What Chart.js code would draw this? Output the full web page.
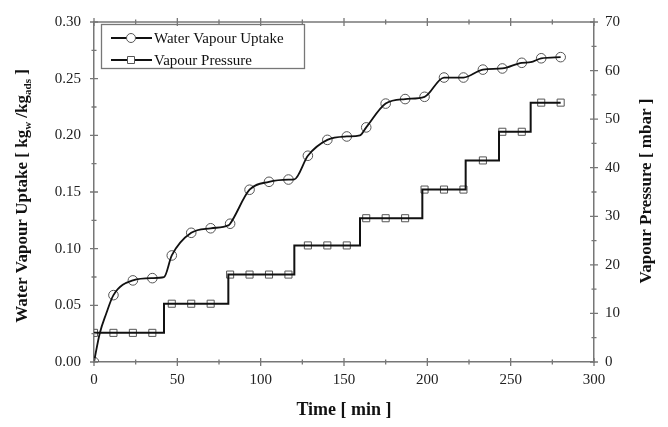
<!DOCTYPE html>
<html>
<head>
<meta charset="utf-8">
<script src="https://cdn.jsdelivr.net/npm/chart.js@4/dist/chart.umd.min.js"></script>
<style>
html,body{margin:0;padding:0;background:#fff;}
#wrap{width:668px;height:427px;position:relative;}
</style>
</head>
<body>
<div id="wrap"><canvas id="myChart"></canvas></div>
<script>
// times [min] of the measured points (markers)
const sampleTime = [0, 11.67, 23.33, 35, 46.67, 58.33, 70, 81.67, 93.33, 105, 116.67, 128.33, 140, 151.67, 163.33, 175, 186.67, 198.33, 210, 221.67, 233.33, 245, 256.67, 268.33, 280];
const uptakeMarks = [0.000, 0.059, 0.072, 0.074, 0.094, 0.114, 0.118, 0.122, 0.152, 0.159, 0.161, 0.182, 0.196, 0.199, 0.207, 0.228, 0.232, 0.234, 0.251, 0.251, 0.258, 0.259, 0.264, 0.268, 0.269];
const pressureMarks = [6, 6, 6, 6, 12, 12, 12, 18, 18, 18, 18, 24, 24, 24, 29.6, 29.6, 29.6, 35.5, 35.5, 35.5, 41.5, 47.4, 47.4, 53.4, 53.4];

// uptake curve (kinks where the pressure steps)
const curveTime = [0, 3.4, 7.4, 11.67, 23.33, 35, 42, 46.67, 58.33, 70, 80.6, 81.67, 93.33, 105, 116.67, 120.2, 128.33, 140, 151.67, 159.6, 163.33, 175, 186.67, 198.33, 210, 221.67, 233.33, 245, 256.67, 262, 268.33, 280];
const curveUptake = [0, 0.025, 0.043, 0.059, 0.072, 0.074, 0.0748, 0.094, 0.114, 0.118, 0.1205, 0.122, 0.152, 0.159, 0.161, 0.1612, 0.182, 0.196, 0.199, 0.2, 0.207, 0.228, 0.232, 0.234, 0.251, 0.251, 0.258, 0.259, 0.264, 0.2645, 0.268, 0.269];

// vapour pressure steps: time of change [min] and new level [mbar]
const stepTime = [0, 42, 80.6, 120.2, 159.6, 197, 223, 243, 262, 280];
const stepLevel = [6, 12, 18, 24, 29.6, 35.5, 41.5, 47.4, 53.4, 53.4];

const xTicks = [0, 50, 100, 150, 200, 250, 300];
const seriesNames = ['Water Vapour Uptake', 'Vapour Pressure'];

const tickFont = {family: 'Liberation Serif', size: 15};
const axisGrey = '#777';

function pts(xs, ys) {
  return xs.map((x, i) => ({x: x, y: ys[i]}));
}

// ticks crossing the axes, titles and the boxed legend
const decor = {
  id: 'decor',
  afterDatasetsDraw(chart) {
    const ctx = chart.ctx;
    const a = chart.chartArea;
    const sx = chart.scales.x, sy = chart.scales.y, sy2 = chart.scales.y2;
    ctx.save();
    ctx.strokeStyle = axisGrey;
    ctx.lineWidth = 1.5;
    // top frame line
    ctx.beginPath();
    ctx.moveTo(a.left, a.top);
    ctx.lineTo(a.right, a.top);
    ctx.stroke();

    ctx.lineWidth = 1.3;
    ctx.beginPath();
    for (let v = 0; v <= 300.001; v += 25) {
      const p = sx.getPixelForValue(v);
      const len = (v % 50 === 0) ? 4 : 2.5;
      ctx.moveTo(p, a.bottom - len); ctx.lineTo(p, a.bottom + len);
      ctx.moveTo(p, a.top - len); ctx.lineTo(p, a.top + len);
    }
    for (let i = 0; i <= 12; i++) {
      const p = sy.getPixelForValue(i * 0.025);
      const len = (i % 2 === 0) ? 4 : 2.5;
      ctx.moveTo(a.left - len, p); ctx.lineTo(a.left + len, p);
    }
    for (let v = 0; v <= 70; v += 5) {
      const p = sy2.getPixelForValue(v);
      const len = (v % 10 === 0) ? 4 : 2.5;
      ctx.moveTo(a.right - len, p); ctx.lineTo(a.right + len, p);
    }
    ctx.stroke();

    // axis titles
    ctx.fillStyle = '#111';
    ctx.textBaseline = 'middle';
    ctx.textAlign = 'center';
    ctx.font = 'bold 18px "Liberation Serif"';
    ctx.fillText('Time [ min ]', (a.left + a.right) / 2, 410);

    ctx.save();
    ctx.translate(647, 191);
    ctx.rotate(-Math.PI / 2);
    ctx.font = 'bold 17px "Liberation Serif"';
    ctx.fillText('Vapour Pressure [ mbar ]', 0, 0);
    ctx.restore();

    // left title with subscripts
    const parts = [
      ['Water Vapour Uptake [ kg', false],
      ['w', true],
      [' /kg', false],
      ['ads', true],
      [' ]', false]
    ];
    const big = 'bold 17px "Liberation Serif"', small = 'bold 11px "Liberation Serif"';
    let total = 0;
    parts.forEach(p => { ctx.font = p[1] ? small : big; total += ctx.measureText(p[0]).width; });
    ctx.save();
    ctx.translate(22, 196);
    ctx.rotate(-Math.PI / 2);
    ctx.textAlign = 'left';
    ctx.textBaseline = 'alphabetic';
    let cx = -total / 2;
    parts.forEach(p => {
      ctx.font = p[1] ? small : big;
      ctx.fillText(p[0], cx, p[1] ? 9 : 5);
      cx += ctx.measureText(p[0]).width;
    });
    ctx.restore();

    // legend
    ctx.strokeStyle = axisGrey;
    ctx.lineWidth = 1.3;
    ctx.strokeRect(101.5, 24.5, 203, 44);
    const rows = [38, 60];
    ctx.font = '15px "Liberation Serif"';
    ctx.textAlign = 'left';
    ctx.textBaseline = 'middle';
    rows.forEach((y, i) => {
      ctx.strokeStyle = '#111';
      ctx.lineWidth = 1.8;
      ctx.beginPath();
      ctx.moveTo(111, y); ctx.lineTo(152, y);
      ctx.stroke();
      ctx.strokeStyle = '#555';
      ctx.lineWidth = 1;
      ctx.beginPath();
      if (i === 0) ctx.arc(131, y, 4.5, 0, Math.PI * 2);
      else ctx.rect(127.5, y - 3.5, 7, 7);
      ctx.fillStyle = '#fff';
      ctx.fill();
      ctx.stroke();
      ctx.fillStyle = '#111';
      ctx.fillText(seriesNames[i], 154, y + 1);
    });
    ctx.restore();
  }
};

const ctx = document.getElementById('myChart');

new Chart(ctx, {
  type: 'line',
  data: {
    datasets: [
      {
        label: seriesNames[0],
        data: pts(curveTime, curveUptake),
        yAxisID: 'y',
        borderColor: '#111',
        borderWidth: 1.8,
        pointRadius: 0,
        cubicInterpolationMode: 'monotone',
        fill: false
      },
      {
        label: seriesNames[0] + ' points',
        data: pts(sampleTime, uptakeMarks),
        yAxisID: 'y',
        showLine: false,
        pointStyle: 'circle',
        pointRadius: 4.8,
        pointBorderWidth: 1,
        pointBorderColor: '#555',
        pointBackgroundColor: 'rgba(0,0,0,0)'
      },
      {
        label: seriesNames[1],
        data: pts(stepTime, stepLevel),
        yAxisID: 'y2',
        stepped: true,
        borderColor: '#111',
        borderWidth: 2,
        pointRadius: 0,
        fill: false
      },
      {
        label: seriesNames[1] + ' points',
        data: pts(sampleTime, pressureMarks),
        yAxisID: 'y2',
        showLine: false,
        pointStyle: 'rect',
        pointRadius: 5,
        pointBorderWidth: 1,
        pointBorderColor: '#555',
        pointBackgroundColor: 'rgba(0,0,0,0)'
      }
    ]
  },
  options: {
    responsive: true,
    maintainAspectRatio: false,
    animation: false,
    devicePixelRatio: 1,
    layout: {padding: {top: 17, left: 0, right: 0, bottom: 0}},
    plugins: {legend: {display: false}, tooltip: {enabled: false}},
    scales: {
      x: {
        type: 'linear',
        position: 'bottom',
        min: 0, max: 300,
        afterBuildTicks: s => { s.ticks = xTicks.map(v => ({value: v})); },
        afterFit: s => { s.height = 65; },
        ticks: {font: tickFont, color: '#222', padding: 9, maxRotation: 0},
        grid: {display: false, drawTicks: false},
        border: {display: true, color: axisGrey, width: 1.5}
      },
      y: {
        position: 'left',
        min: 0, max: 0.3,
        afterFit: s => { s.width = 94; },
        ticks: {stepSize: 0.05, font: tickFont, color: '#222', padding: 13, callback: v => v.toFixed(2)},
        grid: {display: false, drawTicks: false},
        border: {display: true, color: axisGrey, width: 1.5}
      },
      y2: {
        position: 'right',
        min: 0, max: 70,
        afterFit: s => { s.width = 74; },
        ticks: {stepSize: 10, font: tickFont, color: '#222', padding: 11},
        grid: {display: false, drawTicks: false},
        border: {display: true, color: axisGrey, width: 1.5}
      }
    }
  },
  plugins: [decor]
});
</script>
</body>
</html>
